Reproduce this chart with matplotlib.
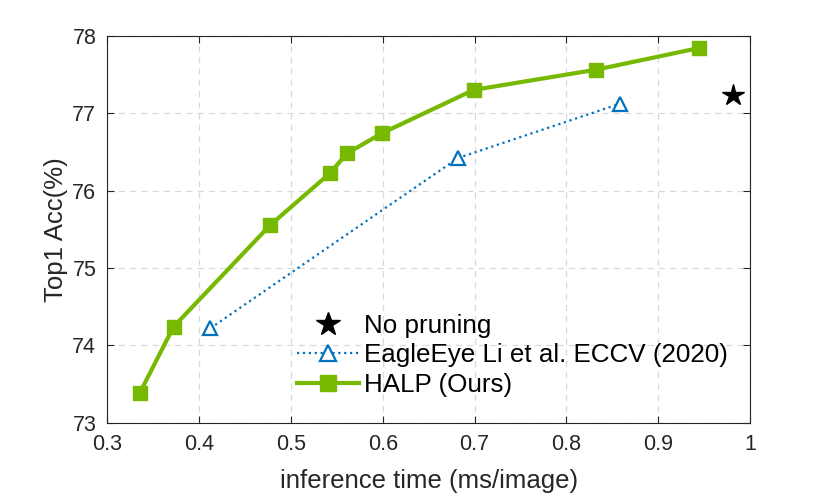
import matplotlib.pyplot as plt

# data
halp_time = [0.335, 0.372, 0.477, 0.542, 0.561, 0.599, 0.699, 0.832, 0.944]
halp_acc = [73.38, 74.24, 75.55, 76.22, 76.48, 76.74, 77.30, 77.56, 77.84]

eagle_time = [0.412, 0.682, 0.858]
eagle_acc = [74.22, 76.42, 77.12]

base_time = [0.982]
base_acc = [77.23]

x_ticks = [0.3, 0.4, 0.5, 0.6, 0.7, 0.8, 0.9, 1.0]
x_labels = ["0.3", "0.4", "0.5", "0.6", "0.7", "0.8", "0.9", "1"]
y_ticks = [73, 74, 75, 76, 77, 78]

green = "#76B900"
blue = "#0072BD"
dark = "#262626"

plt.rcParams['font.family'] = ['Liberation Sans', 'DejaVu Sans']

fig = plt.figure(figsize=(8.3, 4.94), dpi=100)
ax = fig.add_axes([0.1295, 0.1443, 0.7741, 0.7834])

ax.plot(base_time, base_acc, linestyle='none', marker='*', color='black',
        markersize=16, label='No pruning')
ax.plot(eagle_time, eagle_acc, linestyle=':', color=blue, linewidth=1.6,
        marker='^', markersize=10, markerfacecolor='white',
        markeredgecolor=blue, markeredgewidth=1.6,
        label='EagleEye Li et al. ECCV (2020)')
ax.plot(halp_time, halp_acc, linestyle='-', color=green, linewidth=3,
        marker='s', markersize=10, label='HALP (Ours)')

ax.set_xlim(0.3, 1.0)
ax.set_ylim(73, 78)
ax.set_xticks(x_ticks)
ax.set_xticklabels(x_labels)
ax.set_yticks(y_ticks)

ax.grid(True, linestyle=(0, (5, 4)), color='#d9d9d9', linewidth=0.9)
ax.set_axisbelow(True)
ax.tick_params(direction='in', top=True, right=True, length=5,
               labelsize=15.5, colors=dark, pad=8)
for s in ax.spines.values():
    s.set_color(dark)
    s.set_linewidth(0.8)

ax.set_xlabel("inference time (ms/image)", fontsize=18.5, color=dark, labelpad=10)
ax.set_ylabel("Top1 Acc(%)", fontsize=18.5, color=dark, labelpad=3)

# legend without frame, lower middle of the axes
ax.legend(loc='upper left', bbox_to_anchor=(0.258, 0.342), frameon=False,
          fontsize=18.7, handlelength=2.4, labelspacing=0.22,
          handletextpad=0.2, borderpad=0.4, markerscale=1.1)

fig.savefig("out.png", dpi=100)
